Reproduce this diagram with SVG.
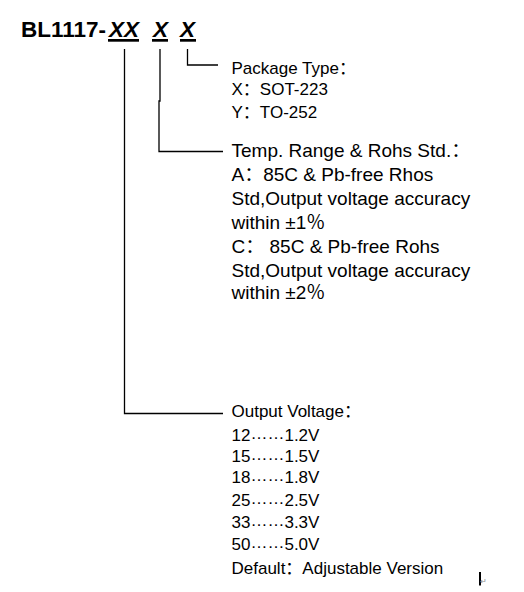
<svg xmlns="http://www.w3.org/2000/svg" width="524" height="592" viewBox="0 0 524 592">
<style>
text{font-family:"Liberation Sans","Noto Sans CJK SC",sans-serif;fill:#000}
.t{font-size:17px}
.m{font-size:19px}
.c{stroke:#000;stroke-width:1.3;fill:none}
</style>
<rect width="524" height="592" fill="#fff"/>
<g id="title">
<text x="21" y="36.5" font-size="22.5" font-weight="bold">BL1117-<tspan x="109" font-style="italic">XX</tspan><tspan x="153" font-style="italic">X</tspan><tspan x="180" font-style="italic">X</tspan></text>
<rect x="108" y="39" width="31" height="2.7"/>
<rect x="152" y="39" width="16" height="2.7"/>
<rect x="180" y="39" width="16" height="2.7"/>
</g>
<g id="connectors">
<path class="c" d="M124.5 49V413.5H223"/>
<path class="c" d="M160 49V101H159V151.5H223"/>
<path class="c" d="M187.5 49V65H218"/>
</g>
<g id="package">
<text class="t" x="231.5" y="73.5">Package Type：</text>
<text class="t" x="231.5" y="95">X：SOT-223</text>
<text class="t" x="231.5" y="117.5">Y：TO-252</text>
</g>
<g id="temp">
<text class="m" x="231.5" y="156.7">Temp. Range &amp; Rohs Std.：</text>
<text class="m" x="231.5" y="180.7">A：85C &amp; Pb-free Rhos</text>
<text class="m" x="231.5" y="205">Std,Output voltage accuracy</text>
<text class="m" x="231.5" y="229.3">within ±1％</text>
<text class="m" x="231.5" y="253.3">C：  85C &amp; Pb-free Rohs</text>
<text class="m" x="231.5" y="276.7">Std,Output voltage accuracy</text>
<text class="m" x="231.5" y="298.5">within ±2％</text>
</g>
<g id="voltage">
<text class="t" x="231.5" y="417">Output Voltage：</text>
<text class="t" x="231.5" y="440.7">12<tspan dy="-2">……</tspan><tspan dy="2">1.2V</tspan></text>
<text class="t" x="231.5" y="461.7">15<tspan dy="-2">……</tspan><tspan dy="2">1.5V</tspan></text>
<text class="t" x="231.5" y="483.2">18<tspan dy="-2">……</tspan><tspan dy="2">1.8V</tspan></text>
<text class="t" x="231.5" y="505.7">25<tspan dy="-2">……</tspan><tspan dy="2">2.5V</tspan></text>
<text class="t" x="231.5" y="527.7">33<tspan dy="-2">……</tspan><tspan dy="2">3.3V</tspan></text>
<text class="t" x="231.5" y="550">50<tspan dy="-2">……</tspan><tspan dy="2">5.0V</tspan></text>
<text class="t" x="231.5" y="574">Default：Adjustable Version</text>
</g>
<g id="cursor">
<rect x="479" y="572" width="2" height="13.5"/>
<text x="480" y="584" font-size="8" style="fill:#888">↵</text>
</g>
</svg>
